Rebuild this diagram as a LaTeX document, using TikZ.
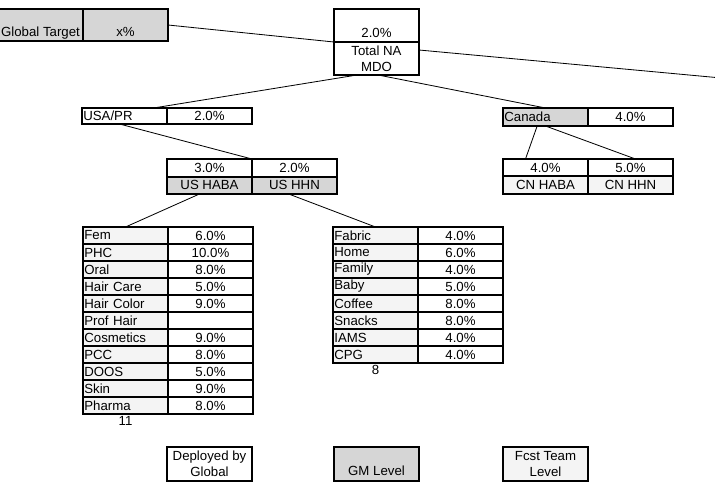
\documentclass[tikz,border=0pt]{standalone}
\usepackage{fontspec}
\setmainfont{Liberation Sans}
\usepackage{tikz}
\usetikzlibrary{calc,positioning}

\begin{document}
\begin{tikzpicture}[x=0.03cm,y=-0.03cm,font=\fontsize{11.3}{13.5}\selectfont]
    \tikzset{
      cell/.style={draw, line width=1.5pt, outer sep=0pt, inner sep=1pt, minimum width=2.55cm, minimum height=0.51cm, align=center},
      lab/.style={cell, text width=2.47cm, align=left},
      dark/.style={fill=gray!32},
      light/.style={fill=gray!9},
      bottomtext/.style={inner ysep=0.05cm, text depth=0.1cm, text height=#1},
      link/.style={line width=0.7pt}
    }
    \useasboundingbox (0,0) rectangle (715,499);
    % top level
    \node[cell, dark, anchor=north west, minimum height=0.96cm, bottomtext=0.76cm] (gt) at (-2,9) {Global Target};
    \node[cell, dark, right=0pt of gt, minimum height=0.96cm, bottomtext=0.76cm] (gtval) {x\%};
    \node[cell, anchor=north west, minimum height=0.99cm, bottomtext=0.79cm] (natop) at (334,9) {2.0\%};
    \node[cell, below=0pt of natop, minimum height=0.99cm] (nabot) {Total NA\\MDO};
    \coordinate (offr) at (716,77.5);
    % countries
    \node[lab, anchor=north west, minimum height=0.48cm] (usa) at (82,108) {USA/PR};
    \node[cell, right=0pt of usa, minimum height=0.48cm] (usaval) {2.0\%};
    \node[lab, dark, anchor=north west, minimum height=0.54cm] (can) at (503,108) {Canada};
    \node[cell, right=0pt of can, minimum height=0.54cm] (canval) {4.0\%};
    % categories
    \node[cell, anchor=north west, minimum height=0.53cm] (ushabav) at (167,159) {3.0\%};
    \node[cell, right=0pt of ushabav, minimum height=0.53cm] (ushhnv) {2.0\%};
    \node[cell, dark, below=0pt of ushabav] (ushaba) {US HABA};
    \node[cell, dark, below=0pt of ushhnv] (ushhn) {US HHN};
    \node[cell, anchor=north west] (cnhabav) at (503,159) {4.0\%};
    \node[cell, right=0pt of cnhabav] (cnhhnv) {5.0\%};
    \node[cell, light, below=0pt of cnhabav, minimum height=0.54cm] (cnhaba) {CN HABA};
    \node[cell, light, below=0pt of cnhhnv, minimum height=0.54cm] (cnhhn) {CN HHN};
    % HABA table
    \foreach \lbl/\val [count=\i] in {Fem/6.0\%, PHC/10.0\%, Oral/8.0\%, Hair Care/5.0\%, Hair Color/9.0\%,
        Prof Hair/, Cosmetics/9.0\%, PCC/8.0\%, DOOS/5.0\%, Skin/9.0\%, Pharma/8.0\%} {
      \node[lab, light, anchor=north west] (habaL\i) at (83,{227+17*(\i-1)}) {\lbl};
      \node[cell, right=0pt of habaL\i] (habaV\i) {\val};
    }
    \node[below=2pt of habaL11, inner sep=0pt] (habacount) {11};
    % HHN table
    \foreach \lbl/\val [count=\i] in {Fabric/4.0\%, Home/6.0\%, Family/4.0\%, Baby/5.0\%,
        Coffee/8.0\%, Snacks/8.0\%, IAMS/4.0\%, CPG/4.0\%} {
      \node[lab, light, anchor=north west] (hhnL\i) at (333,{227+17*(\i-1)}) {\lbl};
      \node[cell, right=0pt of hhnL\i] (hhnV\i) {\val};
    }
    \node[below=2pt of hhnL8, inner sep=0pt] (hhncount) {8};
    % legend
    \node[cell, anchor=north west, minimum height=1.02cm] (deployed) at (167,447) {Deployed by\\Global};
    \node[cell, dark, anchor=north west, minimum height=1.02cm, bottomtext=0.8cm] (gmlevel) at (334,447) {GM Level};
    \node[cell, light, anchor=north west, minimum height=1.02cm] (fcst) at (503,447) {Fcst Team\\Level};
    % connectors
    \draw[link] (gtval.east) -- (nabot.north west);
    \draw[link] ([yshift=-0.24cm]nabot.north east) -- (offr);
    \draw[link] ([xshift=-0.585cm]nabot.south) -- ([xshift=0.87cm]usa.north);
    \draw[link] ([xshift=0.05cm]nabot.south) -- (can.north);
    \draw[link] ([xshift=-0.15cm]usa.south) -- (ushabav.north east);
    \draw[link] ([xshift=-0.25cm]can.south) -- ([xshift=-0.6cm]cnhabav.north);
    \draw[link] (can.south) -- ([xshift=0.15cm]cnhhnv.north);
    \draw[link] ([xshift=-0.28cm]ushaba.south) -- (habaL1.north);
    \draw[link] ([xshift=-0.2cm]ushhn.south) -- (hhnL1.north);
\end{tikzpicture}
\end{document}
